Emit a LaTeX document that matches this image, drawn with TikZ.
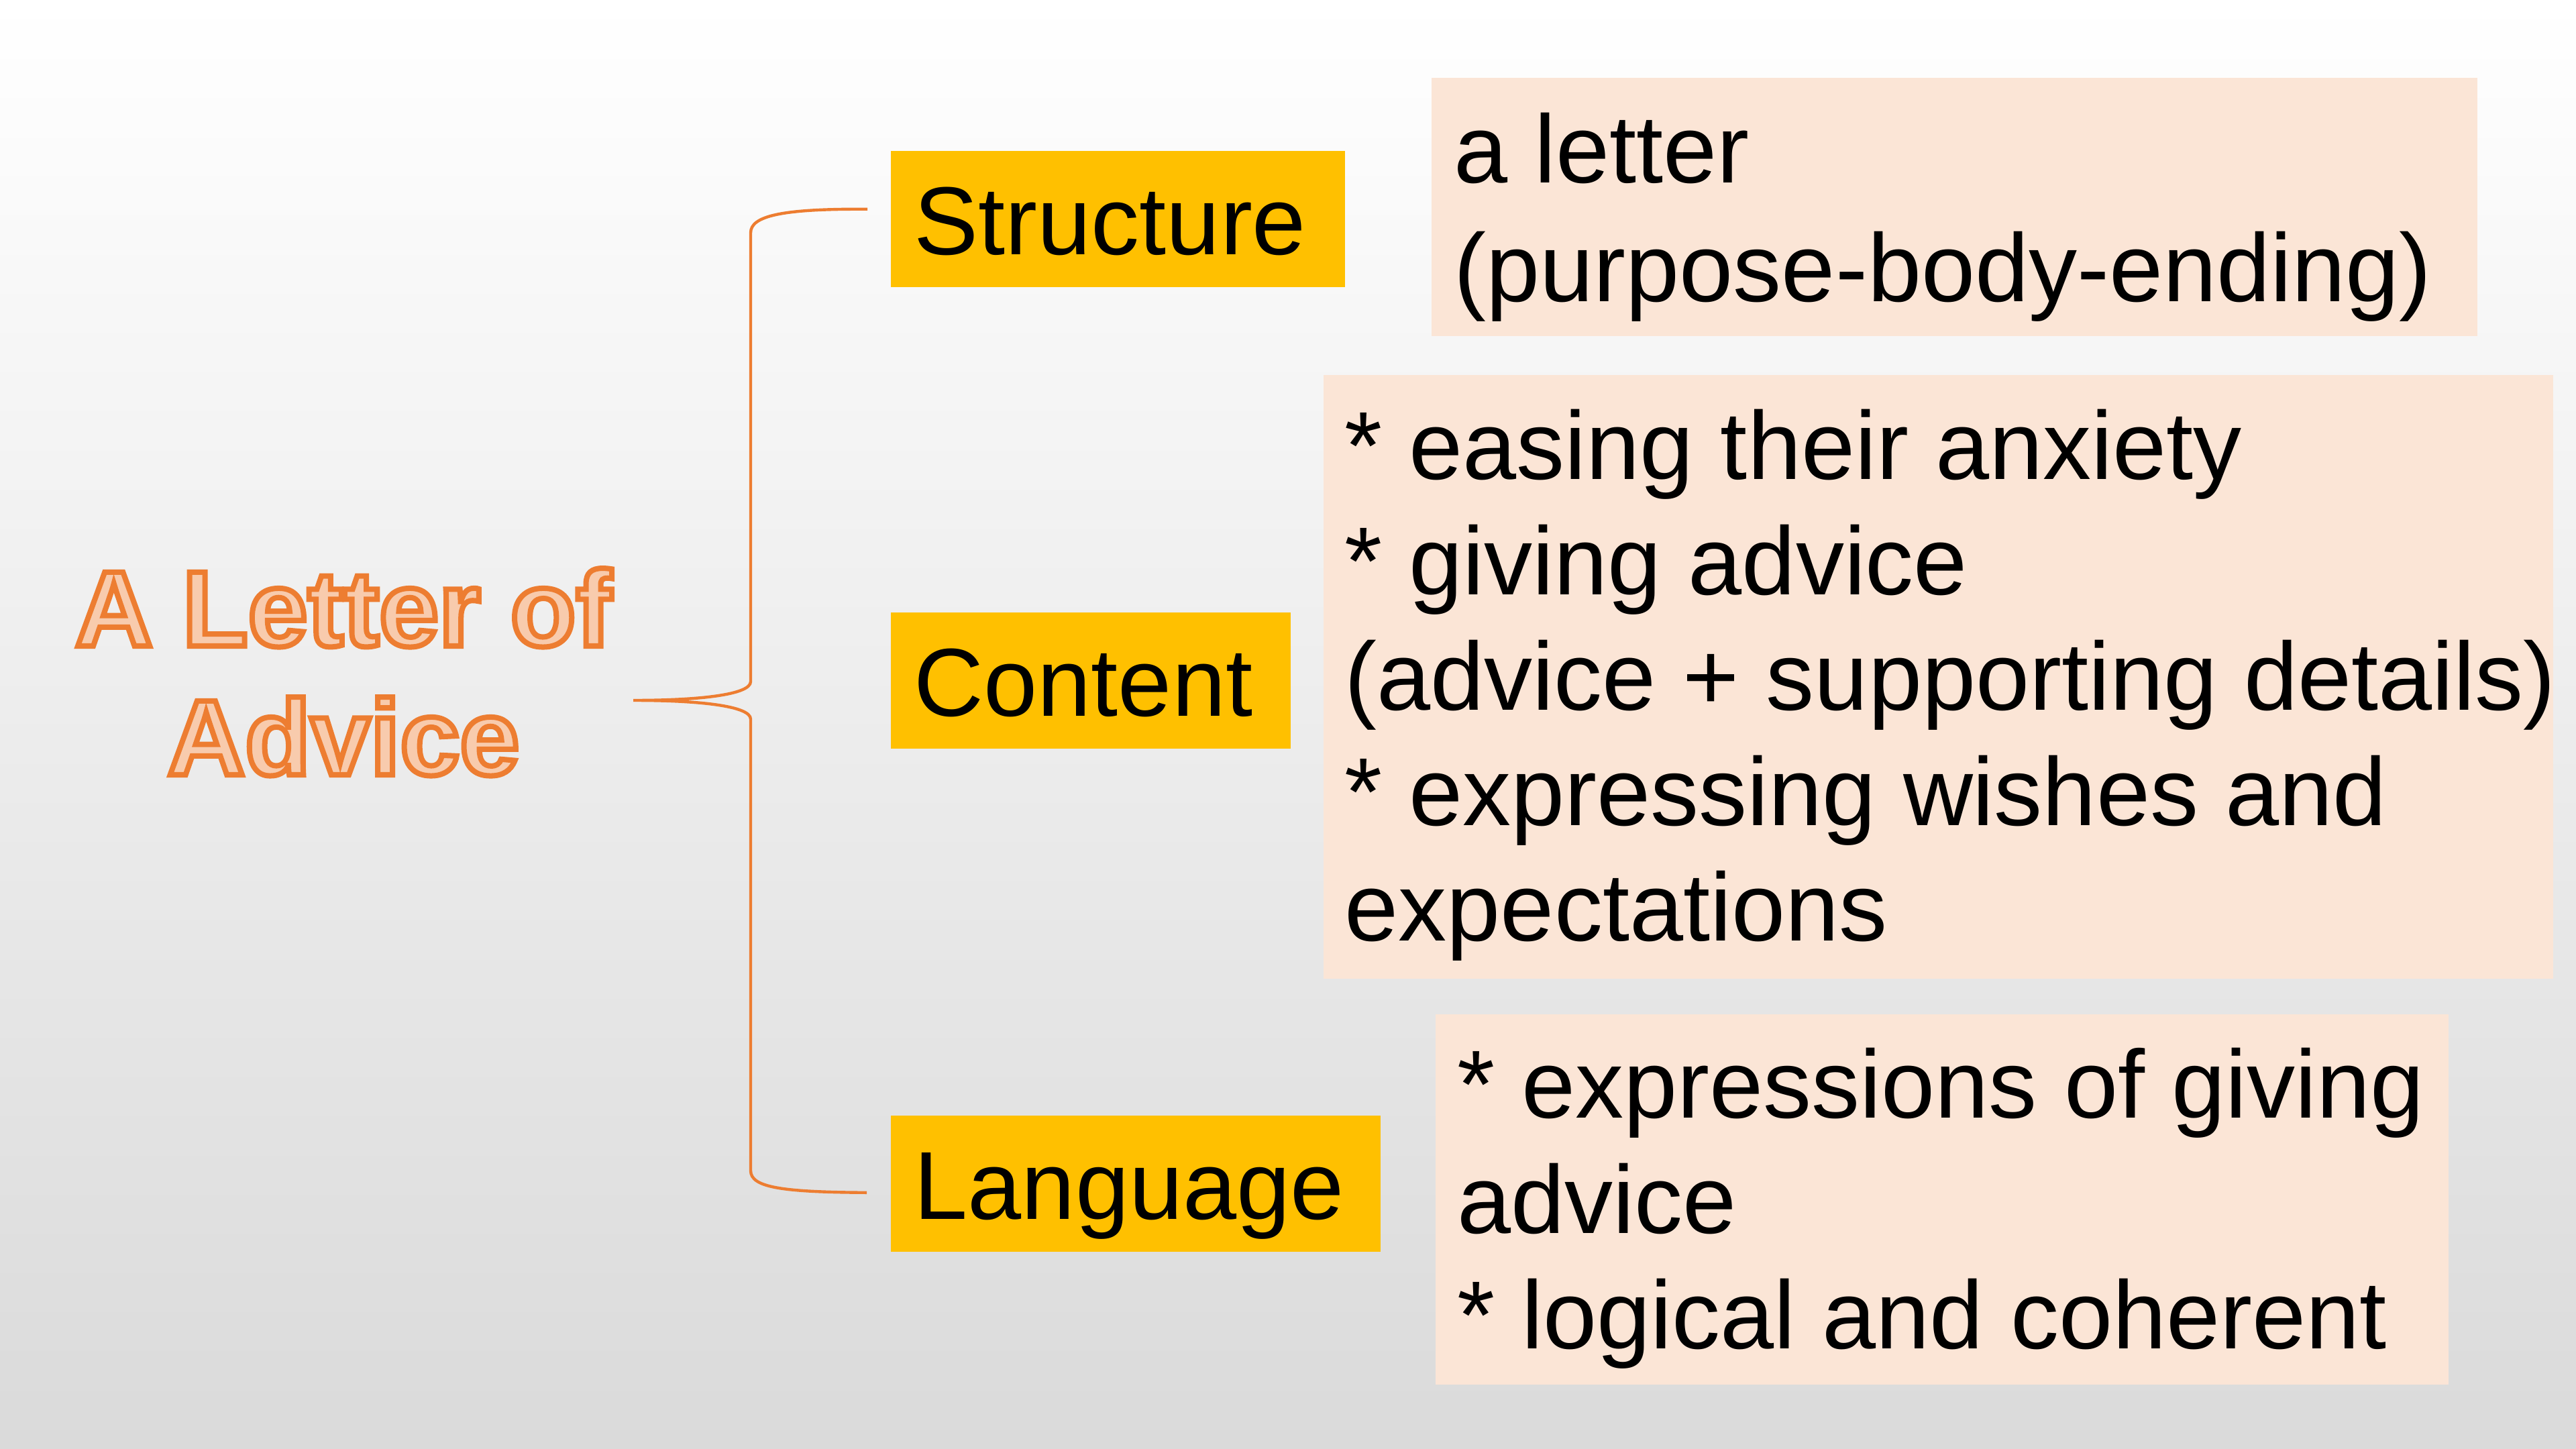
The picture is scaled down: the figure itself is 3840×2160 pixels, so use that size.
\documentclass[tikz,border=0pt]{standalone}
\usepackage{fontspec}
\setmainfont{Liberation Sans}
\newfontfamily\ttlfont[FakeBold=5]{Liberation Sans Bold}
\usetikzlibrary{calc}
\definecolor{bgbot}{RGB}{218,218,218}
\definecolor{ybox}{RGB}{255,192,0}
\definecolor{pbox}{RGB}{251,229,214}
\definecolor{oline}{RGB}{237,125,49}
\definecolor{ofill}{RGB}{248,203,173}
\newcommand{\natsp}{\spaceskip=0pt\xspaceskip=0pt\relax}
\newcommand{\ostroke}{\special{pdf:literal direct 0.929 0.490 0.192 RG}}
\begin{document}
\begin{tikzpicture}[x=0.25pt,y=-0.25pt,
  keybox/.style={fill=ybox, anchor=north west, inner xsep=8.75pt, inner ysep=0pt,
    minimum height=50.75pt, text height=26.8pt, text depth=0pt, align=left,
    font=\fontsize{36}{43}\selectfont},
  notebox/.style={fill=pbox, anchor=north west, inner ysep=0pt, align=flush left},
  bracestyle/.style={draw=oline, line width=1.1pt}]
\shade[top color=white, bottom color=bgbot] (0,0) rectangle (3840,2160);
\useasboundingbox (0,0) rectangle (3840,2160);

\node[font=\ttlfont\fontsize{40}{48}\selectfont, text=ofill, align=center, anchor=base, inner sep=0pt]
  (title) at (512,1155)
  {\natsp\ostroke A Letter of\\\ostroke Advice};

\node[keybox, text width=151.9pt] (structure) at (1327,224) {Structure};
\node[keybox, text width=131.5pt] (content) at (1327,912) {Content};
\node[keybox, text width=165pt] (language) at (1327,1662) {Language};

\node[notebox, inner xsep=8.5pt, text width=372.75pt, text height=39.25pt, text depth=57pt,
  font=\fontsize{36}{44.25}\selectfont] (letter) at (2133,115)
  {\natsp a letter\\(purpose-body-ending)};
\node[notebox, inner xsep=8pt, text width=442.25pt, text height=39pt, text depth=186pt,
  font=\fontsize{36}{43}\selectfont] (points) at (1972,558)
  {\natsp{}* easing their anxiety\\{}* giving advice\\\mbox{(advice + supporting details)}\\{}* expressing wishes and\\expectations};
\node[notebox, inner xsep=8.25pt, text width=361pt, text height=38.75pt, text depth=99.25pt,
  font=\fontsize{36}{43}\selectfont] (expr) at (2139,1511)
  {\natsp\mbox{* expressions of giving}\\advice\\{}* logical and coherent};

\coordinate (bTop) at ($(structure.west)+(-34,-14.5)$);
\coordinate (bBot) at ($(language.west)+(-35,13.5)$);
\coordinate (bTip) at (944,1044);
\draw[bracestyle] (bTop) .. controls (1165,311) and (1119,322) .. (1119,347)
  -- (1119,1016) .. controls (1119,1036) and (1040,1044) .. (bTip)
  .. controls (1040,1044) and (1119,1052) .. (1119,1072)
  -- (1119,1745) .. controls (1119,1770) and (1165,1777) .. (bBot);
\end{tikzpicture}
\end{document}
